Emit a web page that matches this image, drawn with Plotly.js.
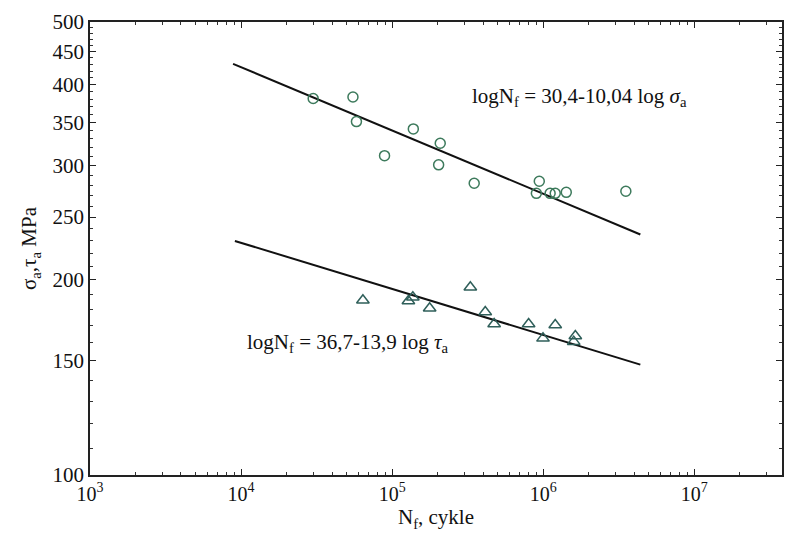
<!DOCTYPE html>
<html>
<head>
<meta charset="utf-8">
<script src="https://cdn.plot.ly/plotly-3.0.1.min.js"></script>
<style>html,body{margin:0;padding:0;background:#fff;}#chart{width:787px;height:535px;}</style>
</head>
<body>
<div id="chart"></div>
<script>
// Bending (sigma_a) fatigue data: cycles to failure and stress amplitude (MPa)
var sigmaN = [30000, 55000, 58000, 89000, 138000, 208000, 203000, 349000, 941000, 900000, 1110000, 1200000, 1420000, 3520000];
var sigmaA = [381, 383, 351, 311, 342, 325, 301, 282, 284, 272, 272, 272, 273, 274];
// Torsion (tau_a) fatigue data
var tauN = [64000, 128000, 137000, 177000, 329000, 413000, 473000, 800000, 1200000, 996000, 1630000, 1590000];
var tauA = [186, 185.6, 188, 180.8, 194.9, 178.4, 171, 171, 170.4, 162.5, 163.9, 160.6];
// Fitted lines (end points)
var fitSigmaN = [8850, 4390000];
var fitSigmaA = [431, 235];
var fitTauN = [9100, 4390000];
var fitTauA = [229.7, 148];
// Tick labels
var xTickVals = [1e3, 1e4, 1e5, 1e6, 1e7];
var xTickText = ['10<sup>3</sup>', '10<sup>4</sup>', '10<sup>5</sup>', '10<sup>6</sup>', '10<sup>7</sup>'];
var yTickVals = [100, 150, 200, 250, 300, 350, 400, 450, 500];
var yTickText = ['100', '150', '200', '250', '300', '350', '400', '450', '500'];

var xMinor = [];
for (var e = 3; e <= 7; e++) for (var d = 2; d <= 9; d++) xMinor.push(d * Math.pow(10, e));
var yMinor = [];
for (var v = 100; v <= 500; v += 10) yMinor.push(v);

var serif = '"Liberation Serif", "DejaVu Serif", serif';

var traces = [
  {x: fitSigmaN, y: fitSigmaA, mode: 'lines', line: {color: '#111', width: 2}, hoverinfo: 'skip'},
  {x: fitTauN, y: fitTauA, mode: 'lines', line: {color: '#111', width: 2}, hoverinfo: 'skip'},
  {x: sigmaN, y: sigmaA, mode: 'markers',
   marker: {symbol: 'circle-open', size: 10, color: '#3d7a5c', line: {width: 1.5}}},
  {x: tauN, y: tauA, mode: 'markers',
   marker: {symbol: 'triangle-up-open', size: 11, color: '#2f5f5a', line: {width: 1.5}}}
];

var axisCommon = {
  showgrid: false, zeroline: false, showline: true, linecolor: '#222', linewidth: 1.5,
  mirror: 'ticks', ticks: 'inside', ticklen: 6, tickwidth: 1.2, tickcolor: '#222',
  tickfont: {family: serif, size: 21, color: '#111'}
};

var layout = {
  width: 787, height: 535,
  margin: {l: 90, r: 5, t: 22, b: 60},
  paper_bgcolor: '#fff', plot_bgcolor: '#fff',
  showlegend: false,
  font: {family: serif, color: '#111'},
  xaxis: Object.assign({}, axisCommon, {
    type: 'log', range: [3, 7.58],
    tickmode: 'array', tickvals: xTickVals, ticktext: xTickText,
    tickfont: {family: serif, size: 20, color: '#111'},
    minor: {tickmode: 'array', tickvals: xMinor, ticks: 'inside', ticklen: 3, tickcolor: '#333', tickwidth: 1},
    title: {text: 'N<sub>f</sub>, cykle', font: {family: serif, size: 21, color: '#111'}, standoff: 6}
  }),
  yaxis: Object.assign({}, axisCommon, {
    type: 'log', range: [2, Math.log10(500)],
    tickmode: 'array', tickvals: yTickVals, ticktext: yTickText,
    minor: {tickmode: 'array', tickvals: yMinor, ticks: 'inside', ticklen: 3, tickcolor: '#333', tickwidth: 1},
    title: {text: 'σ<sub>a</sub>,τ<sub>a</sub> MPa', font: {family: serif, size: 21, color: '#111'}, standoff: 10}
  }),
  annotations: [
    {xref: 'paper', yref: 'paper', x: 0.549, y: 0.834, xanchor: 'left', yanchor: 'middle', showarrow: false,
     text: 'logN<sub>f</sub> = 30,4-10,04 log <i>σ</i><sub>a</sub>', font: {family: serif, size: 21, color: '#111'}},
    {xref: 'paper', yref: 'paper', x: 0.224, y: 0.291, xanchor: 'left', yanchor: 'middle', showarrow: false,
     text: 'logN<sub>f</sub> = 36,7-13,9 log <i>τ</i><sub>a</sub>', font: {family: serif, size: 21, color: '#111'}}
  ]
};

Plotly.newPlot('chart', traces, layout, {displayModeBar: false});
</script>
</body>
</html>
